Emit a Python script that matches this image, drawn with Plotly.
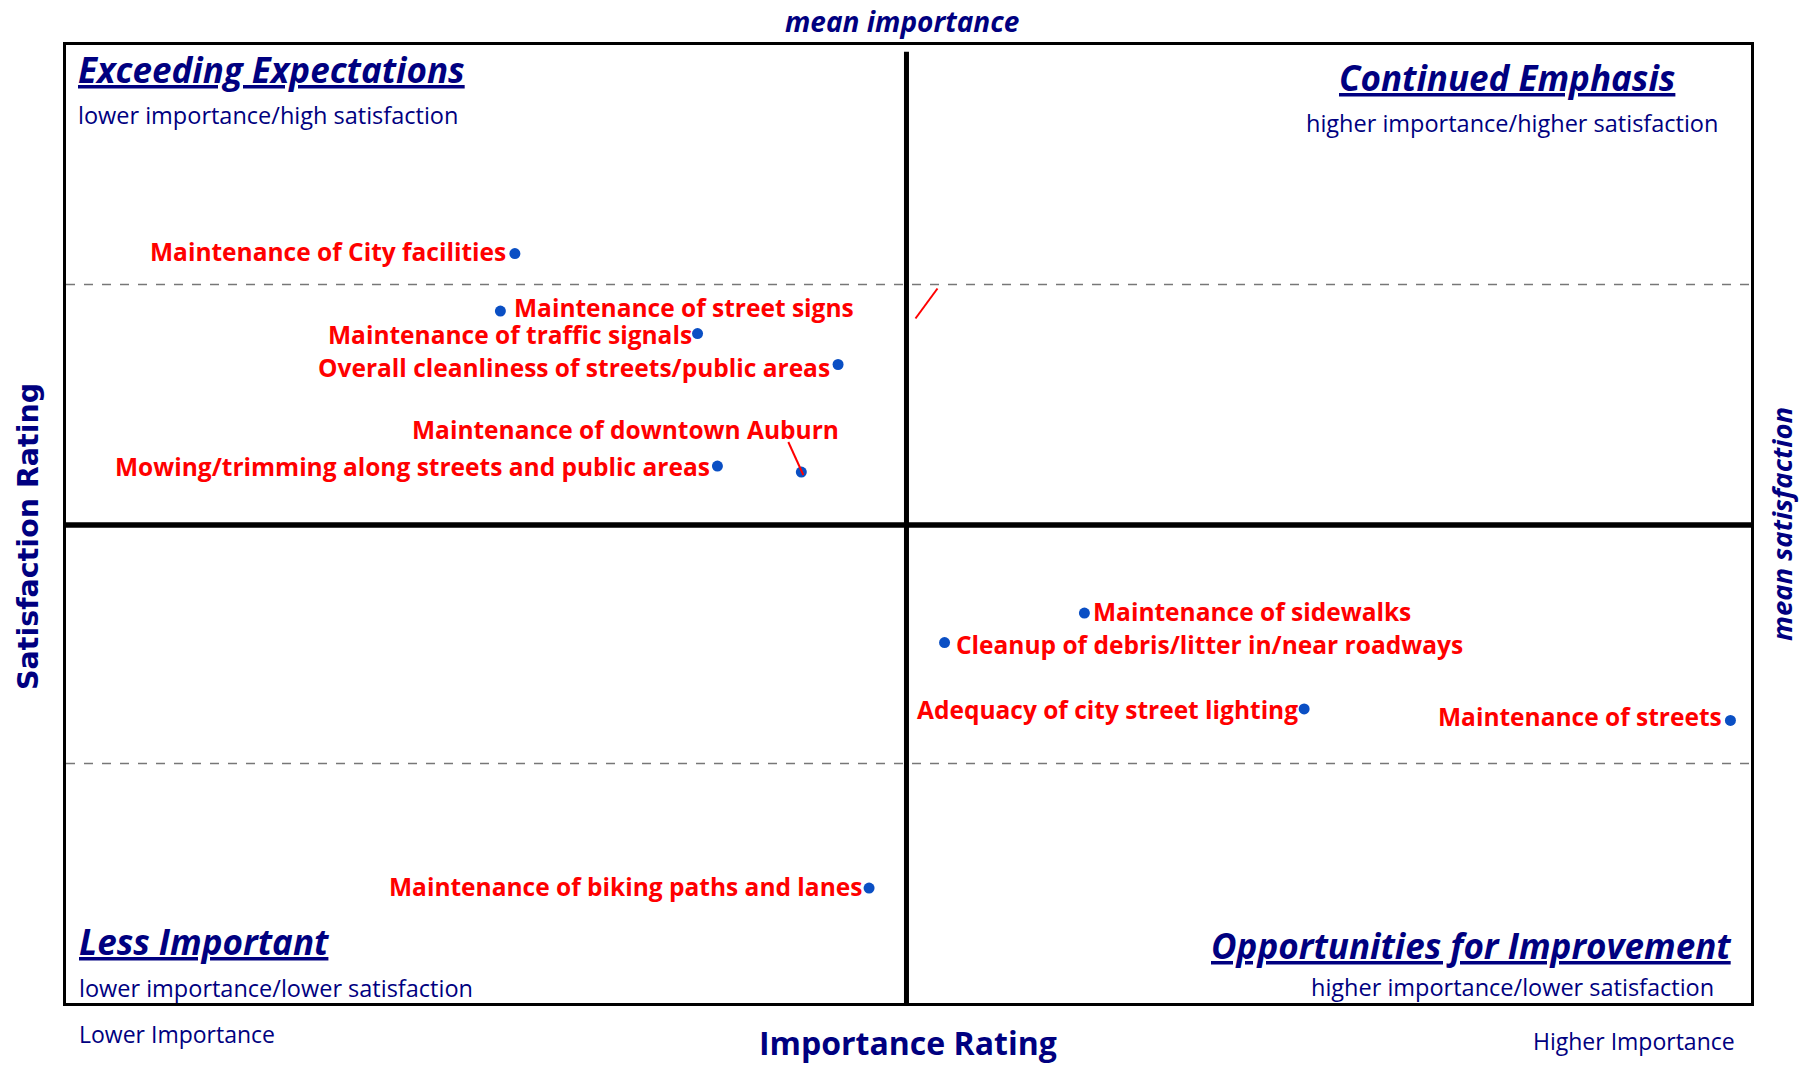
import plotly.graph_objects as go

# importance (x) / satisfaction (y) ratings
services = [
    "Maintenance of City facilities",
    "Maintenance of street signs",
    "Maintenance of traffic signals",
    "Overall cleanliness of streets/public areas",
    "Maintenance of downtown Auburn",
    "Mowing/trimming along streets and public areas",
    "Maintenance of sidewalks",
    "Cleanup of debris/litter in/near roadways",
    "Adequacy of city street lighting",
    "Maintenance of streets",
    "Maintenance of biking paths and lanes",
]
importance = [13.32, 12.89, 18.74, 22.91, 21.82, 19.33, 30.22, 26.07, 36.74, 49.39, 23.83]
satisfaction = [71.29, 68.89, 67.95, 66.66, 62.17, 62.42, 56.28, 55.05, 52.28, 51.8, 44.8]

mean_importance = 24.94
mean_satisfaction = 59.96
upper_band = 70
lower_band = 50
x_range = [0, 50]
y_range = [40, 80]

# label placement: (xanchor, xshift, yshift)
label_pos = [
    ("right", -7, 2),
    ("left", 12, 4),
    ("right", -4, -1),
    ("right", -6, -3),
    ("right", 40, 43),
    ("right", -5, 0),
    ("left", 7, 2),
    ("left", 9, -2),
    ("right", -4, -1),
    ("right", -6, 4),
    ("right", -5, 2),
]

navy = "#000080"
red = "#ff0000"
dot_blue = "#0a4fc4"
font_family = "Open Sans"

fig = go.Figure()

fig.add_trace(go.Scatter(
    x=importance, y=satisfaction, mode="markers",
    marker=dict(color=dot_blue, size=11),
    hovertext=services, hoverinfo="text", showlegend=False))

for name, xv, yv, (anchor, dx, dy) in zip(services, importance, satisfaction, label_pos):
    fig.add_annotation(x=xv, y=yv, text="<b>" + name + "</b>", showarrow=False,
                       xanchor=anchor, yanchor="middle", xshift=dx, yshift=dy,
                       font=dict(family=font_family, size=24.5, color=red))

# leader line for downtown Auburn
i = services.index("Maintenance of downtown Auburn")
fig.add_shape(type="line", xref="x", yref="y", xsizemode="pixel", ysizemode="pixel",
              xanchor=importance[i], yanchor=satisfaction[i],
              x0=-13, y0=30, x1=2, y1=-3, line=dict(color=red, width=2))
# stray leader line next to the mean importance line
fig.add_shape(type="line", xref="x", yref="y", xsizemode="pixel", ysizemode="pixel",
              xanchor=mean_importance, yanchor=upper_band,
              x0=31, y0=-4, x1=9, y1=-34, line=dict(color=red, width=2))

# dashed bands
for yb in [upper_band, lower_band]:
    fig.add_shape(type="line", xref="paper", yref="y", x0=0, x1=1, y0=yb, y1=yb,
                  line=dict(color="#777777", width=1.5, dash="dash"))
# quadrant dividers
fig.add_shape(type="line", xref="x", yref="paper", x0=mean_importance, x1=mean_importance,
              y0=0, y1=0.993, line=dict(color="black", width=5))
fig.add_shape(type="line", xref="paper", yref="y", x0=0, x1=1,
              y0=mean_satisfaction, y1=mean_satisfaction, line=dict(color="black", width=5.5))


def note(text, x, y, size, xanchor="center", yanchor="middle", angle=0,
         bold=False, italic=False, under=False, family=font_family):
    if under:
        text = "<u>" + text + "</u>"
    if italic:
        text = "<i>" + text + "</i>"
    if bold:
        text = "<b>" + text + "</b>"
    fig.add_annotation(x=x, y=y, xref="paper", yref="paper", text=text, showarrow=False,
                       xanchor=xanchor, yanchor=yanchor, textangle=angle,
                       font=dict(family=family, size=size, color=navy))


note("Exceeding Expectations", 0.0059, 0.974, 35, "left", bold=True, italic=True, under=True)
note("lower importance/high satisfaction", 0.0059, 0.927, 23.5, "left")
note("Continued Emphasis", 0.855, 0.966, 35, bold=True, italic=True, under=True)
note("higher importance/higher satisfaction", 0.858, 0.9186, 23.5)
note("Less Important", 0.0065, 0.0637, 35, "left", bold=True, italic=True, under=True)
note("lower importance/lower satisfaction", 0.0068, 0.0157, 23.5, "left")
note("Opportunities for Improvement", 0.99, 0.060, 35, "right", bold=True, italic=True, under=True)
note("higher importance/lower satisfaction", 0.9795, 0.0171, 23.5, "right")
note("mean importance", 0.496, 1.0465, 28, yanchor="top", bold=True, italic=True)
note("mean satisfaction", 1.0178, 0.5, 27.5, angle=-90, bold=True, italic=True)
note("Satisfaction Rating", -0.022, 0.4875, 28.5, angle=-90, bold=True, family="DejaVu Sans")
note("Importance Rating", 0.4997, -0.0655, 32, yanchor="bottom", bold=True)
note("Lower Importance", 0.0065, -0.0324, 23, "left")
note("Higher Importance", 0.9917, -0.0393, 23, "right")

fig.update_xaxes(range=x_range, showgrid=False, zeroline=False, showticklabels=False, ticks="",
                 showline=True, mirror=True, linecolor="black", linewidth=3)
fig.update_yaxes(range=y_range, showgrid=False, zeroline=False, showticklabels=False, ticks="",
                 showline=True, mirror=True, linecolor="black", linewidth=3)
fig.update_layout(width=1807, height=1066, paper_bgcolor="white", plot_bgcolor="white",
                  margin=dict(l=66, r=56, t=45, b=63), font=dict(family=font_family))

# drop the default 8px body margin so the figure fills the window
fig.write_html("out.html", config={"displayModeBar": False},
               post_script="document.body.style.margin='0';")
